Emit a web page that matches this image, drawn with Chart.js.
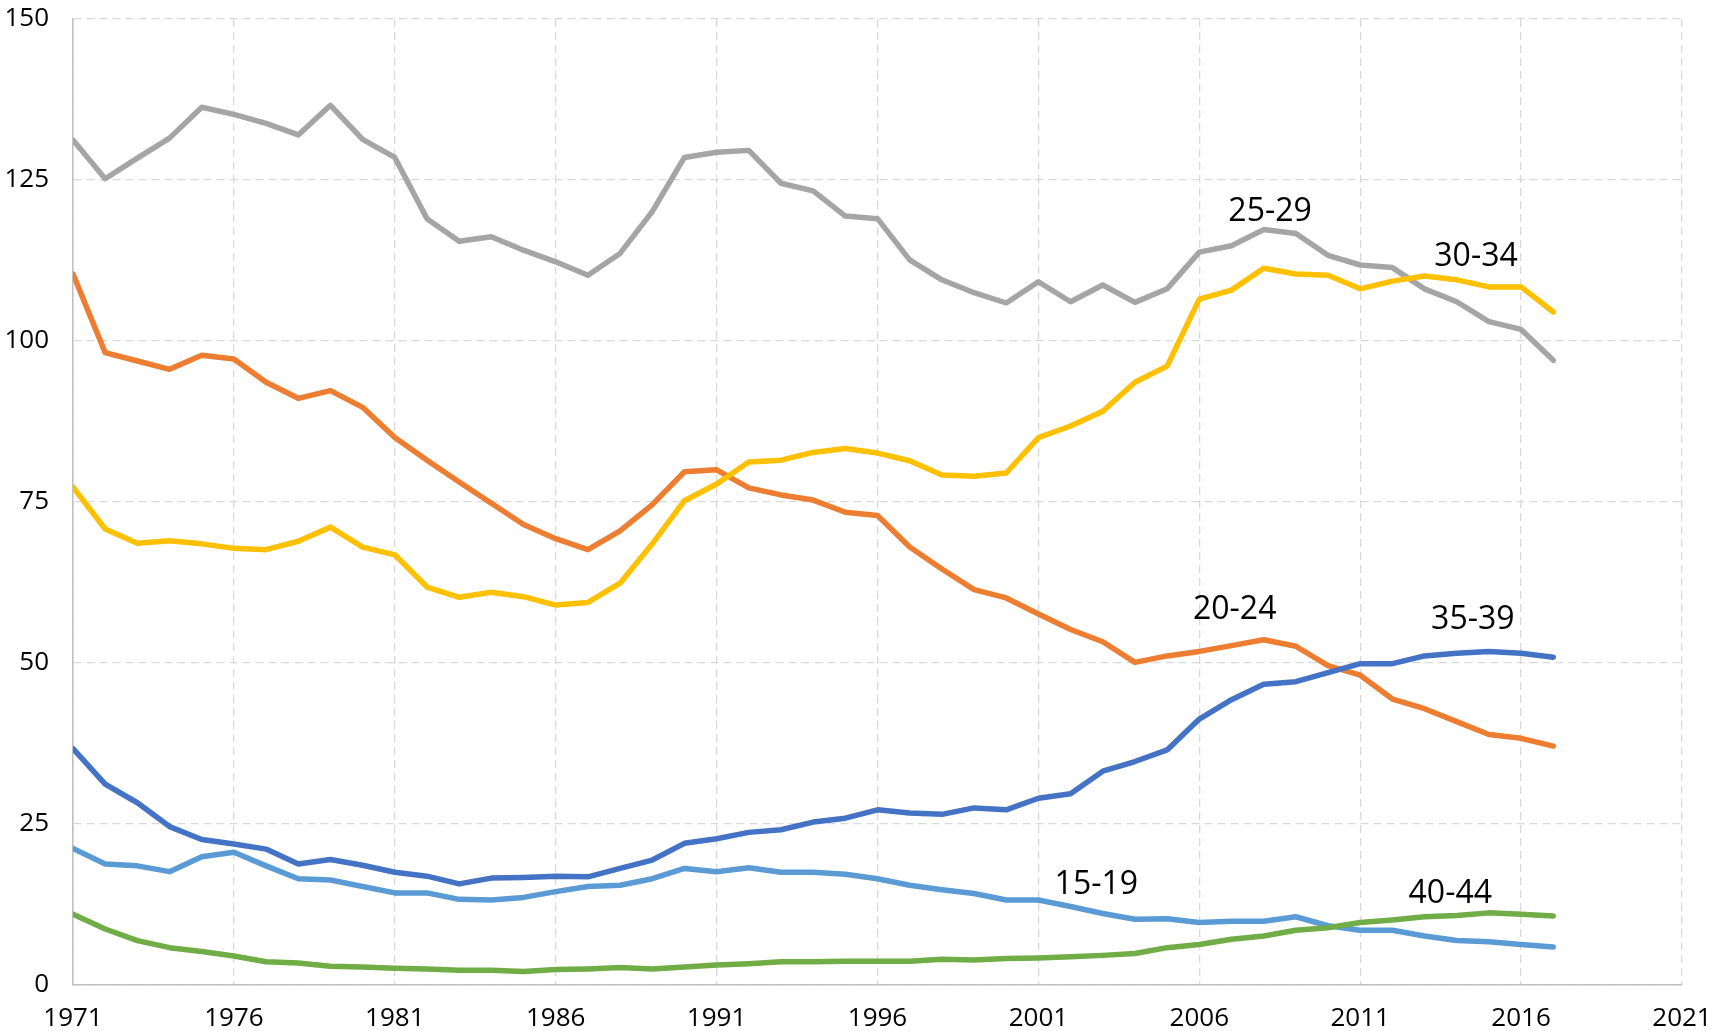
<!DOCTYPE html>
<html>
<head>
<meta charset="utf-8">
<script src="https://cdn.jsdelivr.net/npm/chart.js@4.4.1/dist/chart.umd.min.js"></script>
<style>
  html, body { margin:0; padding:0; background:#fff; overflow:hidden; }
  #wrap { width:1714px; height:1031px; position:relative; }
</style>
</head>
<body>
<div id="wrap"><canvas id="chart"></canvas></div>
<script>
/* births per 1000 women by age group, 1971-2017 */
const years = [1971,1972,1973,1974,1975,1976,1977,1978,1979,1980,
  1981,1982,1983,1984,1985,1986,1987,1988,1989,1990,
  1991,1992,1993,1994,1995,1996,1997,1998,1999,2000,
  2001,2002,2003,2004,2005,2006,2007,2008,2009,2010,
  2011,2012,2013,2014,2015,2016,2017];

const age15_19 = [21.2,18.8,18.5,17.6,19.9,20.6,18.5,16.5,16.3,15.3,
  14.3,14.3,13.3,13.2,13.6,14.5,15.3,15.5,16.5,18.1,
  17.6,18.2,17.5,17.5,17.2,16.5,15.5,14.8,14.2,13.2,
  13.2,12.2,11.1,10.2,10.3,9.7,9.9,9.9,10.6,9.2,
  8.5,8.5,7.6,6.9,6.7,6.3,5.9];
const age20_24 = [110.4,98.2,96.9,95.6,97.8,97.2,93.6,91.1,92.3,89.7,
  85.0,81.5,78.1,74.8,71.5,69.3,67.6,70.5,74.6,79.7,
  80.0,77.2,76.1,75.3,73.4,72.9,68.0,64.6,61.4,60.1,
  57.6,55.2,53.3,50.1,51.1,51.8,52.7,53.6,52.6,49.6,
  48.1,44.4,42.9,40.9,38.9,38.3,37.1];
const age25_29 = [131.2,125.2,128.4,131.5,136.3,135.2,133.8,132.0,136.6,131.3,
  128.5,119.0,115.5,116.2,114.1,112.3,110.2,113.6,120.1,128.5,
  129.3,129.6,124.5,123.3,119.4,119.0,112.6,109.5,107.5,105.9,
  109.2,106.1,108.7,106.0,108.1,113.8,114.8,117.3,116.7,113.3,
  111.8,111.4,108.1,106.1,103.0,101.8,97.0];
const age30_34 = [77.3,70.8,68.6,69.0,68.5,67.8,67.6,68.9,71.1,68.0,
  66.8,61.8,60.2,61.0,60.3,59.0,59.4,62.4,68.5,75.2,
  77.8,81.2,81.5,82.7,83.3,82.6,81.4,79.2,79.0,79.5,
  85.0,86.8,89.1,93.6,96.1,106.5,107.9,111.3,110.4,110.2,
  108.1,109.3,110.1,109.5,108.4,108.4,104.5];
const age35_39 = [36.7,31.2,28.3,24.6,22.6,21.9,21.1,18.8,19.5,18.6,
  17.5,16.9,15.7,16.6,16.7,16.9,16.8,18.1,19.4,22.0,
  22.7,23.7,24.1,25.3,25.9,27.2,26.7,26.5,27.5,27.2,
  29.0,29.7,33.2,34.7,36.5,41.3,44.3,46.7,47.1,48.5,
  49.9,49.9,51.1,51.5,51.8,51.5,50.9];
const age40_44 = [11.0,8.7,6.9,5.8,5.2,4.5,3.6,3.4,2.9,2.8,
  2.6,2.5,2.3,2.3,2.1,2.4,2.5,2.7,2.5,2.8,
  3.1,3.3,3.6,3.6,3.7,3.7,3.7,4.0,3.9,4.1,
  4.2,4.4,4.6,4.9,5.8,6.3,7.1,7.6,8.5,8.9,
  9.7,10.1,10.6,10.8,11.2,11.0,10.7];

const seriesNames  = ['15-19','20-24','25-29','30-34','35-39','40-44'];
const seriesValues = [age15_19, age20_24, age25_29, age30_34, age35_39, age40_44];
const seriesColors = ['#5B9BD5','#ED7D31','#A5A5A5','#FFC000','#4472C4','#70AD47'];

// in-chart labels (year, value)
const labelYear  = [2002.8, 2007.1, 2008.2, 2014.6, 2014.5, 2013.8];
const labelValue = [15.5, 58.2, 120.1, 113.1, 56.7, 14.1];

const FONT = "'Open Sans', 'Liberation Sans', sans-serif";
Chart.defaults.font.family = FONT;
Chart.defaults.font.size = 26;
Chart.defaults.color = '#000';

const seriesLabels = {
  id: 'seriesLabels',
  afterDatasetsDraw(chart){
    const {ctx, scales:{x, y}} = chart;
    ctx.save();
    ctx.font = `32px ${FONT}`;
    ctx.fillStyle = '#000';
    ctx.textAlign = 'center';
    ctx.textBaseline = 'middle';
    seriesNames.forEach((name, i) => {
      ctx.fillText(name, x.getPixelForValue(labelYear[i]), y.getPixelForValue(labelValue[i]));
    });
    ctx.restore();
  }
};

const datasets = seriesNames.map((name, i) => ({
  label: name,
  data: years.map((yr, j) => ({x: yr, y: seriesValues[i][j]})),
  borderColor: seriesColors[i],
  backgroundColor: seriesColors[i],
  borderWidth: 5.5,
  borderJoinStyle: 'round',
  borderCapStyle: 'round',
  pointRadius: 0,
  tension: 0,
  order: seriesNames.length - i
}));

new Chart(document.getElementById('chart'), {
  type: 'line',
  data: { datasets },
  options: {
    responsive: true,
    maintainAspectRatio: false,
    animation: false,
    layout: { padding: { top: 19, right: 32, left: 0, bottom: 0 } },
    plugins: { legend: {display:false}, tooltip: {enabled:false} },
    scales: {
      x: {
        type: 'linear',
        min: 1971, max: 2021,
        afterFit: s => { s.height = 46; s.paddingLeft = 0; s.paddingRight = 0; },
        ticks: { stepSize: 5, padding: 18, callback: v => String(v), maxRotation: 0 },
        grid: { color: '#d9d9d9', lineWidth: 1.3, drawTicks: false },
        border: { display: true, color: '#bfbfbf', width: 1.5, dash: [8,5] }
      },
      y: {
        min: 0, max: 150,
        afterFit: s => { s.width = 73; s.paddingTop = 0; s.paddingBottom = 0; },
        ticks: { stepSize: 25, padding: 24 },
        grid: { color: '#d9d9d9', lineWidth: 1.3, drawTicks: false },
        border: { display: true, color: '#bfbfbf', width: 1.5, dash: [8,5] }
      }
    }
  },
  plugins: [seriesLabels]
});
</script>
</body>
</html>
